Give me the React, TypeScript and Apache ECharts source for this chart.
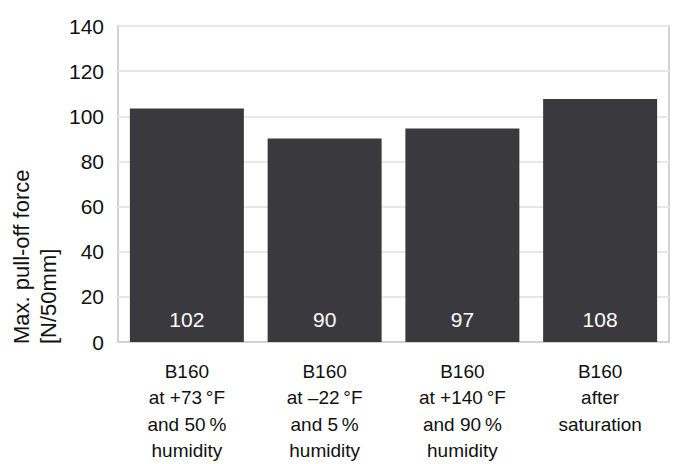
import React, { useEffect, useRef } from "react";
import * as echarts from "echarts";

const categories = [
  "B160\nat +73\u2009°F\nand 50\u2009%\nhumidity",
  "B160\nat \u201322\u2009°F\nand 5\u2009%\nhumidity",
  "B160\nat +140\u2009°F\nand 90\u2009%\nhumidity",
  "B160\nafter\nsaturation",
];
const barValues = [103.4, 90.2, 94.6, 107.7];
const barLabels = ["102", "90", "97", "108"];
const yTicks = { min: 0, max: 140, interval: 20 };
const yAxisTitle = "Max. pull-off force\n[N/50mm]";

const FONT = "'Liberation Sans', Arial, Helvetica, sans-serif";

export default function App() {
  const ref = useRef<HTMLDivElement>(null);
  useEffect(() => {
    if (!ref.current) return;
    const chart = echarts.init(ref.current, null, { renderer: "svg" });
    chart.setOption({
      animation: false,
      backgroundColor: "#ffffff",
      textStyle: { fontFamily: FONT },
      grid: {
        left: 118,
        right: 11,
        top: 26,
        bottom: 119,
        show: true,
        borderColor: "#d2d2d2",
        borderWidth: 2,
        containLabel: false,
      },
      graphic: [
        {
          type: "text",
          x: 8,
          y: 344,
          rotation: Math.PI / 2,
          style: {
            text: yAxisTitle,
            font: `22px ${FONT}`,
            fill: "#111111",
            align: "left",
            verticalAlign: "top",
            lineHeight: 27,
          },
        },
      ],
      xAxis: {
        type: "category",
        data: categories,
        axisLine: { show: true, lineStyle: { color: "#d2d2d2", width: 2 } },
        axisTick: { show: false },
        axisLabel: {
          color: "#111111",
          fontSize: 19,
          lineHeight: 26.5,
          margin: 16,
          fontFamily: FONT,
          interval: 0,
          verticalAlign: "top",
        },
      },
      yAxis: {
        type: "value",
        min: yTicks.min,
        max: yTicks.max,
        interval: yTicks.interval,
        axisLine: { show: false },
        axisTick: { show: false },
        splitLine: { show: true, lineStyle: { color: "#e8e8e8", width: 2 } },
        axisLabel: {
          color: "#111111",
          fontSize: 21,
          margin: 14,
          fontFamily: FONT,
        },
      },
      series: [
        {
          type: "bar",
          data: barValues,
          barWidth: 114,
          itemStyle: { color: "#3a393e" },
          label: {
            show: true,
            position: "insideBottom",
            distance: 12,
            color: "#ffffff",
            fontSize: 21,
            fontFamily: FONT,
            formatter: (p: any) => barLabels[p.dataIndex],
          },
        },
      ],
    });
    return () => chart.dispose();
  }, []);
  return (
    <div
      ref={ref}
      style={{ position: "fixed", left: 0, top: 0, width: 680, height: 464 }}
    />
  );
}
